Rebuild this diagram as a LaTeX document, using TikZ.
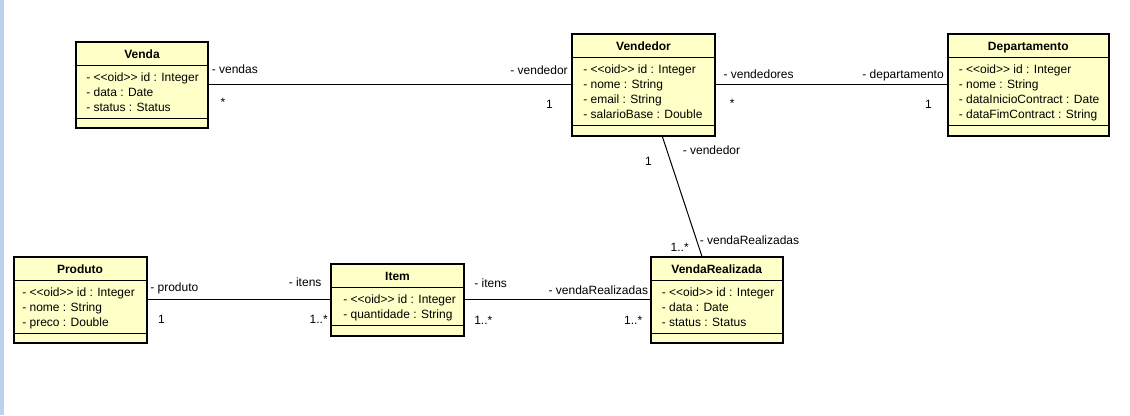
\documentclass[tikz,border=0pt]{standalone}
\usepackage{fontspec}
\setmainfont{Liberation Sans}[Ligatures=TeXOff]
\usepackage{xcolor}

\definecolor{classfill}{RGB}{255,255,200}
\definecolor{stripblue}{RGB}{188,210,236}

\tikzset{
  classbox/.style={draw=black, line width=1.5pt, fill=classfill, rectangle, inner sep=0pt, outer sep=0pt},
  classtitle/.style={font=\fontsize{9}{11}\selectfont\bfseries, inner sep=0pt},
  attr/.style={font=\fontsize{9}{11}\selectfont, inner sep=0pt, anchor=base west},
  role/.style={font=\fontsize{9}{11}\selectfont, inner sep=0pt},
  sepline/.style={line width=0.75pt},
  assoc/.style={line width=0.75pt},
}

% class box: #1 name, #2 left, #3 top, #4 width, #5 number of attributes,
% #6 text indent, #7 title, #8 attributes
\newcommand{\umlclass}[8]{%
  \node[classbox, anchor=north west, minimum width=#4*\px, minimum height={(41.5+15*#5)*\px}] (#1) at (#2,#3) {};
  \node[classtitle, anchor=base] (#1-title) at ([shift={(0,16.5)}]#1.north) {#7};
  \draw[sepline] ([shift={(0,23.5)}]#1.north west) -- ([shift={(0,23.5)}]#1.north east);
  \draw[sepline] ([shift={(0,-10)}]#1.south west) -- ([shift={(0,-10)}]#1.south east);
  \foreach \attrib [count=\k] in {#8} {
    \node[attr] (#1-a\k) at ([shift={(#6,24.5+15*\k)}]#1.north west) {\attrib};
  }
}

\begin{document}
\begin{tikzpicture}[x=0.75pt, y=-0.75pt]
% parameters (pixels)
\def\px{0.75pt}
\useasboundingbox (0,0) rectangle (1130,415);
% left border strip
\fill[stripblue] (0,0) rectangle (4,415);
% Draw the classes
\umlclass{Venda}{76}{41.5}{132}{3}{10}{Venda}{- <<oid>> id : Integer, - data : Date, - status : Status}
\umlclass{Vendedor}{572}{34}{143}{4}{11}{Vendedor}{- <<oid>> id : Integer, - nome : String, - email : String, - salarioBase : Double}
\umlclass{Departamento}{947.5}{34}{161.5}{4}{11}{Departamento}{- <<oid>> id : Integer, - nome : String, - dataInicioContract : Date, - dataFimContract : String}
\umlclass{Produto}{13.5}{256.5}{133}{3}{8.5}{Produto}{- <<oid>> id : Integer, - nome : String, - preco : Double}
\umlclass{Item}{331}{264}{133}{2}{12}{Item}{- <<oid>> id : Integer, - quantidade : String}
\umlclass{VendaRealizada}{650.5}{256.5}{132.5}{3}{11}{VendaRealizada}{- <<oid>> id : Integer, - data : Date, - status : Status}
% Draw the associations
\draw[assoc] (Venda) -- (Vendedor);
\draw[assoc] (Vendedor) -- (Departamento);
\draw[assoc] (Produto) -- (Item);
\draw[assoc] (Item) -- (VendaRealizada);
\coordinate (dTop) at ([shift={(18.5,0)}]Vendedor.south);
\coordinate (dBot) at ([shift={(-14.75,0)}]VendaRealizada.north);
\draw[assoc] (dTop) -- (dBot);
% Draw the role names and multiplicities
\node[role, anchor=base west] (rVendas) at ([shift={(3.5,-11.75)}]Venda.east) {- vendas};
\node[role, anchor=base] (mVendas) at ([shift={(15,22)}]Venda.east) {*};
\node[role, anchor=base east] (rVendedorA) at ([shift={(-4,-10)}]Vendedor.west) {- vendedor};
\node[role, anchor=base] (mVendedorA) at ([shift={(-22.5,24)}]Vendedor.west) {1};
\node[role, anchor=base west] (rVendedores) at ([shift={(8.3,-6.4)}]Vendedor.east) {- vendedores};
\node[role, anchor=base] (mVendedores) at ([shift={(17.3,23)}]Vendedor.east) {*};
\node[role, anchor=base east] (rDepartamento) at ([shift={(-3.5,-6)}]Departamento.west) {- departamento};
\node[role, anchor=base] (mDepartamento) at ([shift={(-19,24)}]Departamento.west) {1};
\node[role, anchor=base west] (rProduto) at ([shift={(3.5,-8)}]Produto.east) {- produto};
\node[role, anchor=base] (mProduto) at ([shift={(15,24)}]Produto.east) {1};
\node[role, anchor=base east] (rItensA) at ([shift={(-9.3,-13)}]Item.west) {- itens};
\node[role, anchor=base east] (mItensA) at ([shift={(-3,24)}]Item.west) {1..*};
\node[role, anchor=base west] (rItensB) at ([shift={(10,-12)}]Item.east) {- itens};
\node[role, anchor=base west] (mItensB) at ([shift={(10,25)}]Item.east) {1..*};
\node[role, anchor=base east] (rVendaRealizadasA) at ([shift={(-2.2,-5.5)}]VendaRealizada.west) {- vendaRealizadas};
\node[role, anchor=base east] (mVendaRealizadasA) at ([shift={(-8,25)}]VendaRealizada.west) {1..*};
\node[role, anchor=base west] (rVendedorB) at ([shift={(20.5,18.5)}]dTop) {- vendedor};
\node[role, anchor=base] (mVendedorB) at ([shift={(-13.5,29.5)}]dTop) {1};
\node[role, anchor=base east] (mVendaRealizadasB) at ([shift={(-13,-5)}]dBot) {1..*};
\node[role, anchor=base west] (rVendaRealizadasB) at ([shift={(-2.5,-12.5)}]dBot) {- vendaRealizadas};
\end{tikzpicture}
\end{document}
